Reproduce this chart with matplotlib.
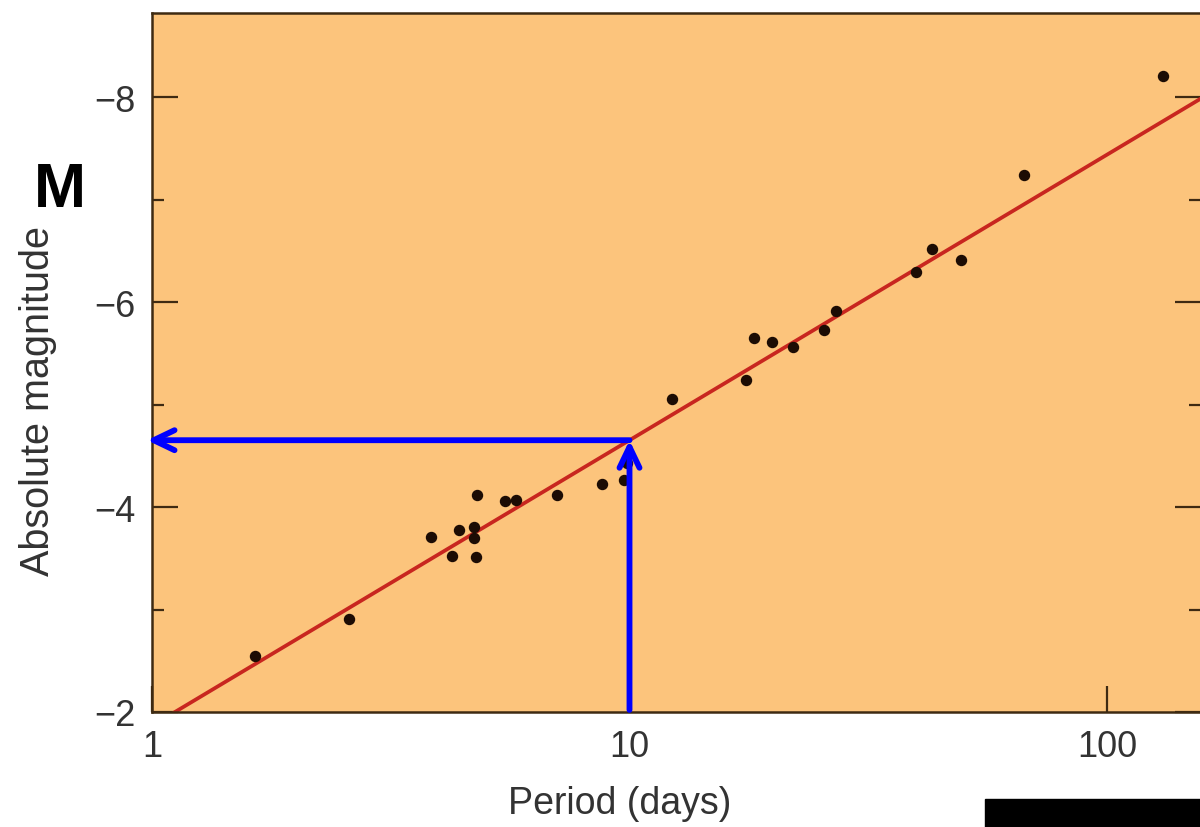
import matplotlib
matplotlib.use("Agg")
import matplotlib.pyplot as plt
import numpy as np
from matplotlib.patches import Rectangle

# Cepheid period-luminosity data
period = [1.64, 2.59, 3.84, 4.25, 4.40, 4.73, 4.73, 4.77, 4.79, 5.49,
          5.79, 7.05, 8.76, 9.74, 9.88, 12.3, 17.5, 18.2, 19.9, 22.0,
          25.6, 27.1, 39.8, 43.0, 49.5, 67.0, 131.0]
abs_mag = [-2.55, -2.91, -3.71, -3.52, -3.78, -3.81, -3.70, -3.51, -4.12, -4.06,
           -4.07, -4.12, -4.23, -4.26, -4.43, -5.06, -5.24, -5.65, -5.61, -5.56,
           -5.73, -5.91, -6.29, -6.52, -6.41, -7.24, -8.21]

# fitted line M = a + b log10(P)
fit_a = -1.866
fit_b = -2.787
p_mark = 10.0

y_ticks = [-8, -6, -4, -2]
y_labels = ["\u22128", "\u22126", "\u22124", "\u22122"]
x_ticks = [1, 10, 100]
x_labels = ["1", "10", "100"]

plt.rcParams["font.family"] = ["Liberation Sans", "DejaVu Sans"]

fig = plt.figure(figsize=(12, 8.28), dpi=100)
ax = fig.add_axes([152 / 1200, 1 - 713 / 828, (1201 - 152) / 1200, (713 - 14) / 828])
bg = "#fcc47c"
edge = "#3e2a12"
ax.set_facecolor(bg)

ax.set_xscale("log")
ax.set_xlim(1, 10 ** ((1201 - 152) / 477.5))
ax.set_ylim(-2, -8.823)

pp = np.logspace(0, 2.3, 50)
ax.plot(pp, fit_a + fit_b * np.log10(pp), color="#c8261f", lw=2.7, zorder=2)
ax.plot(period, abs_mag, "o", color="#1c0c04", ms=7.2, zorder=3)

# blue read-off arrows
m_mark = fit_a + fit_b * np.log10(p_mark)
arrow = dict(arrowstyle="->,head_length=0.75,head_width=0.36", color="#0000ff",
             lw=4.2, mutation_scale=20, shrinkA=0, shrinkB=0)
ax.annotate("", xy=(p_mark, m_mark), xytext=(p_mark, -2.02),
            arrowprops=arrow, annotation_clip=False, zorder=4)
ax.annotate("", xy=(0.976, m_mark), xytext=(p_mark, m_mark),
            arrowprops=arrow, annotation_clip=False, zorder=4)

ax.set_yticks(y_ticks)
ax.set_yticklabels(y_labels)
ax.set_yticks([-7, -5, -3], minor=True)
ax.set_xticks(x_ticks)
ax.set_xticklabels(x_labels)
ax.xaxis.set_minor_locator(matplotlib.ticker.NullLocator())

ax.tick_params(axis="y", which="both", direction="in", left=True, right=True,
               color=edge, width=1.6, labelsize=26, labelcolor="#333333", pad=12)
ax.tick_params(axis="y", which="major", length=19)
ax.tick_params(axis="y", which="minor", length=8.5)
ax.tick_params(axis="x", which="major", direction="in", length=19, width=1.6,
               color=edge, labelsize=26, labelcolor="#333333", pad=12)

for s in ax.spines.values():
    s.set_color(edge)
    s.set_linewidth(1.8)

ax.set_xlabel("Period (days)", fontsize=27, color="#333333")
ax.xaxis.set_label_coords((620 - 152) / 1049, -(786 - 713) / 699)
ax.set_ylabel("Absolute magnitude", fontsize=28.5, color="#333333")
ax.yaxis.set_label_coords((57 - 152) / 1049, (713 - 401) / 699)

fig.text(59.5 / 1200, 1 - 207 / 828, "M", fontsize=45, fontweight="bold",
         ha="center", va="baseline", color="black")

fig.patches.append(Rectangle((985 / 1200, 0), 215 / 1200, 28 / 828,
                             transform=fig.transFigure, color="black"))

fig.savefig("out.png", dpi=100)
